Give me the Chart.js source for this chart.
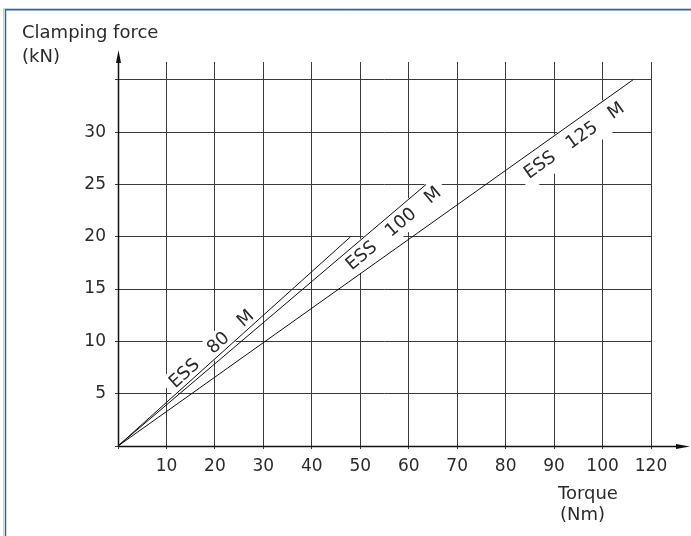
<!DOCTYPE html>
<html>
<head>
<meta charset="utf-8">
<script src="https://cdn.jsdelivr.net/npm/chart.js@4"></script>
<style>
  html, body { margin: 0; padding: 0; background: #fff; }
  canvas { display: block; }
</style>
</head>
<body>
<canvas id="forceChart" width="691" height="536"></canvas>
<script>
// Clamping force vs tightening torque, one straight line per size
const seriesNames = ['ESS 80 M', 'ESS 100 M', 'ESS 125 M'];
const torqueEnd = [48, 63.6, 106.3]; // Nm where each line stops
const forceEnd = [20, 25, 35];       // kN where each line stops

// Tick values and the labels printed under them (the last one reads 120 on the original)
const xTickValues = [10, 20, 30, 40, 50, 60, 70, 80, 90, 100, 110];
const xTickLabels = ['10', '20', '30', '40', '50', '60', '70', '80', '90', '100', '120'];
const yTickValues = [5, 10, 15, 20, 25, 30, 35];
const yTickLabels = ['5', '10', '15', '20', '25', '30', ''];

const FONT = "'DejaVu Sans', sans-serif";
const INK = '#2b2b2b';

// where the rotated labels sit: x value along the line, offset in px (+ above, - below)
const labelPlacement = [
    { at: 20.6, offset: 10 },
    { at: 55.2, offset: -12 },
    { at: 92.3, offset: -15 }
];

const drawingPlugin = {
    id: 'drawing',
    beforeDraw(chart) {
        const ctx = chart.ctx;
        ctx.save();
        ctx.fillStyle = '#fff';
        ctx.fillRect(0, 0, chart.width, chart.height);
        // page frame
        ctx.strokeStyle = '#c8d0e0';
        ctx.lineWidth = 1;
        ctx.beginPath();
        ctx.moveTo(3.5, chart.height);
        ctx.lineTo(3.5, 8.5);
        ctx.lineTo(chart.width, 8.5);
        ctx.stroke();
        ctx.strokeStyle = '#3f5fa5';
        ctx.lineWidth = 1.5;
        ctx.beginPath();
        ctx.moveTo(5.5, chart.height);
        ctx.lineTo(5.5, 9.75);
        ctx.lineTo(chart.width, 9.75);
        ctx.stroke();
        ctx.restore();
    },
    beforeDatasetsDraw(chart) {
        // labels along the lines, on a white patch that hides the grid
        const ctx = chart.ctx;
        const xs = chart.scales.x, ys = chart.scales.y;
        ctx.save();
        ctx.font = '18px ' + FONT;
        seriesNames.forEach((name, i) => {
            const x0 = xs.getPixelForValue(0), y0 = ys.getPixelForValue(0);
            const x1 = xs.getPixelForValue(torqueEnd[i]), y1 = ys.getPixelForValue(forceEnd[i]);
            const angle = Math.atan2(y1 - y0, x1 - x0);
            const place = labelPlacement[i];
            const px = xs.getPixelForValue(place.at);
            const py = y0 + (px - x0) * (y1 - y0) / (x1 - x0);
            const cx = px + place.offset * Math.sin(angle);
            const cy = py - place.offset * Math.cos(angle);
            const text = name.replace(/ /g, '   ');
            const w = ctx.measureText(text).width + 12;
            const h = Math.abs(place.offset) * 2 + 2;
            ctx.save();
            ctx.translate(cx, cy);
            ctx.rotate(angle);
            ctx.fillStyle = '#fff';
            ctx.fillRect(-w / 2, -h / 2, w, h);
            ctx.fillStyle = INK;
            ctx.textAlign = 'center';
            ctx.textBaseline = 'middle';
            ctx.fillText(text, 0, 1);
            ctx.restore();
        });
        ctx.restore();
    },
    afterDatasetsDraw(chart) {
        const ctx = chart.ctx;
        const xs = chart.scales.x, ys = chart.scales.y;
        const ox = Math.round(xs.getPixelForValue(0)) + 0.5;
        const oy = Math.round(ys.getPixelForValue(0)) + 0.5;
        ctx.save();
        ctx.strokeStyle = '#111';
        ctx.fillStyle = '#111';
        ctx.lineWidth = 1.5;
        // y axis with arrow
        ctx.beginPath();
        ctx.moveTo(ox, oy);
        ctx.lineTo(ox, 60);
        ctx.stroke();
        ctx.beginPath();
        ctx.moveTo(ox, 50);
        ctx.lineTo(ox - 2.5, 63);
        ctx.lineTo(ox + 2.5, 63);
        ctx.closePath();
        ctx.fill();
        // x axis with arrow
        ctx.beginPath();
        ctx.moveTo(ox, oy);
        ctx.lineTo(680, oy);
        ctx.stroke();
        ctx.beginPath();
        ctx.moveTo(690, oy);
        ctx.lineTo(676, oy - 2.5);
        ctx.lineTo(676, oy + 2.5);
        ctx.closePath();
        ctx.fill();
        // axis titles
        ctx.fillStyle = INK;
        ctx.font = '18px ' + FONT;
        ctx.textAlign = 'left';
        ctx.textBaseline = 'alphabetic';
        ctx.fillText('Clamping force', 22, 38);
        ctx.fillText('(kN)', 22, 62);
        ctx.fillText('Torque', 558, 499);
        ctx.fillText('(Nm)', 560, 520);
        ctx.restore();
    }
};

const ctx = document.getElementById('forceChart').getContext('2d');

new Chart(ctx, {
    type: 'scatter',
    data: {
        datasets: seriesNames.map((name, i) => ({
            label: name,
            data: [{ x: 0, y: 0 }, { x: torqueEnd[i], y: forceEnd[i] }],
            showLine: true,
            borderColor: '#111',
            borderWidth: 1,
            pointRadius: 0,
            fill: false
        }))
    },
    options: {
        responsive: false,
        animation: false,
        layout: { padding: { top: 62, right: 40, left: 0, bottom: 0 } },
        scales: {
            x: {
                type: 'linear',
                min: 0,
                max: 110,
                afterBuildTicks: (scale) => {
                    scale.ticks = [0].concat(xTickValues).map(v => ({ value: v }));
                },
                afterFit: (scale) => { scale.height = 90; },
                ticks: {
                    autoSkip: false,
                    maxRotation: 0,
                    padding: 7,
                    color: INK,
                    font: { family: FONT, size: 17 },
                    callback: (value) => {
                        const i = xTickValues.indexOf(value);
                        return i >= 0 ? xTickLabels[i] : '';
                    }
                },
                grid: { color: '#3a3a3a', lineWidth: 1, tickLength: 3 },
                border: { display: false }
            },
            y: {
                type: 'linear',
                min: 0,
                max: 36.7,
                afterBuildTicks: (scale) => {
                    scale.ticks = [0].concat(yTickValues).map(v => ({ value: v }));
                },
                afterFit: (scale) => { scale.width = 118; },
                ticks: {
                    autoSkip: false,
                    padding: 9,
                    color: INK,
                    font: { family: FONT, size: 17 },
                    callback: (value) => {
                        const i = yTickValues.indexOf(value);
                        return i >= 0 ? yTickLabels[i] : '';
                    }
                },
                grid: { color: '#3a3a3a', lineWidth: 1, tickLength: 3 },
                border: { display: false }
            }
        },
        plugins: {
            legend: { display: false },
            tooltip: { enabled: false }
        }
    },
    plugins: [drawingPlugin]
});
</script>
</body>
</html>
